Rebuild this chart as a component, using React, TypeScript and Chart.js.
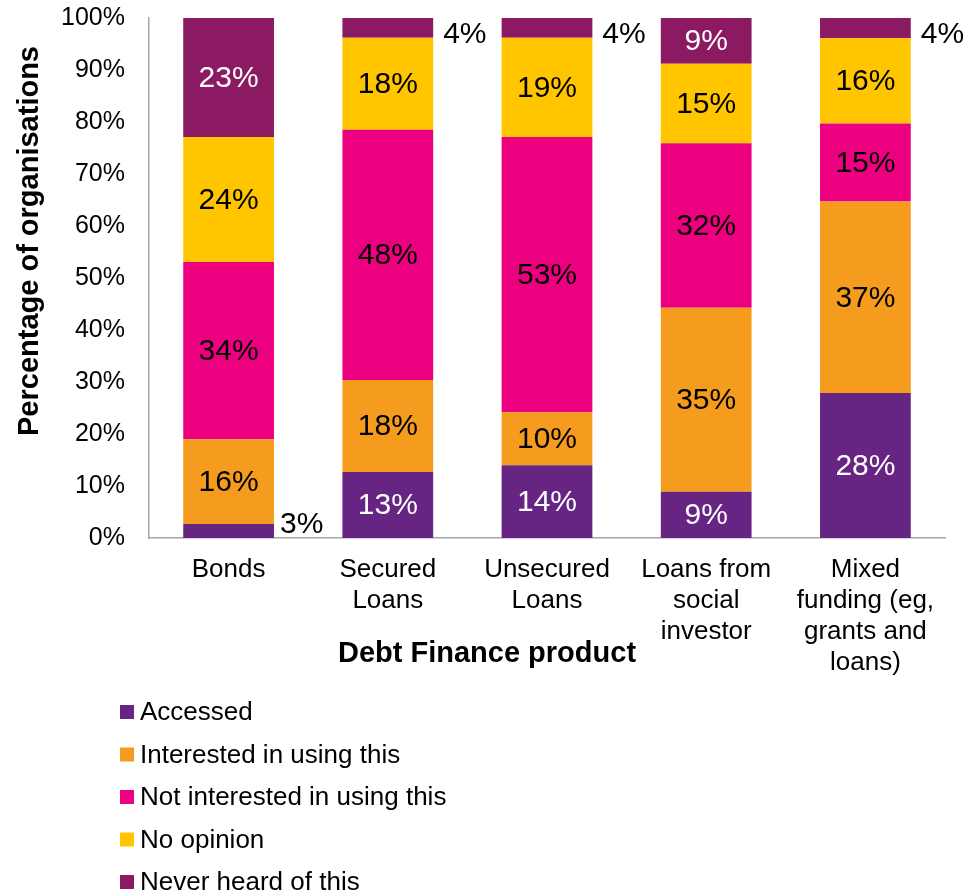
import React, { useEffect, useRef } from "react";
import { Chart, registerables } from "chart.js";

Chart.register(...registerables);

const categories: string[][] = [
  ["Bonds"],
  ["Secured", "Loans"],
  ["Unsecured", "Loans"],
  ["Loans from", "social", "investor"],
  ["Mixed", "funding (eg,", "grants and", "loans)"],
];

const seriesNames = [
  "Accessed",
  "Interested in using this",
  "Not interested in using this",
  "No opinion",
  "Never heard of this",
];

const accessed = [2.7, 12.7, 14.0, 8.9, 27.9];
const interested = [16.3, 17.7, 10.2, 35.4, 36.8];
const notInterested = [34.1, 48.1, 52.9, 31.6, 15.0];
const noOpinion = [24.0, 17.7, 19.1, 15.3, 16.4];
const neverHeard = [22.9, 3.8, 3.8, 8.8, 3.9];

const yTicks = [0, 10, 20, 30, 40, 50, 60, 70, 80, 90, 100];

const colors = ["#662483", "#F59C1E", "#EC0080", "#FFC600", "#8B1A62"];
const labelColors = ["#FFFFFF", "#000000", "#000000", "#000000", "#FFFFFF"];

const FONT = "Arial, 'Liberation Sans', Helvetica, sans-serif";

const customPlugin = {
  id: "customDraw",
  afterDatasetsDraw(chart: any) {
    const ctx = chart.ctx;
    const area = chart.chartArea;
    ctx.save();
    ctx.font = `30px ${FONT}`;
    ctx.textBaseline = "middle";
    chart.data.datasets.forEach((ds: any, i: number) => {
      const meta = chart.getDatasetMeta(i);
      meta.data.forEach((bar: any, j: number) => {
        const v = ds.data[j] as number;
        const text = Math.round(v) + "%";
        const cy = (bar.y + bar.base) / 2;
        if (v < 5) {
          ctx.fillStyle = "#000000";
          ctx.textAlign = "left";
          const nearTop = cy < (area.top + area.bottom) / 2;
          const y = Math.min(Math.max(cy, area.top + 16), area.bottom - 14);
          ctx.fillText(text, bar.x + bar.width / 2 + (nearTop ? 10 : 6), y + 1);
        } else {
          ctx.fillStyle = labelColors[i];
          ctx.textAlign = "center";
          ctx.fillText(text, bar.x, cy + 1);
        }
      });
    });
    ctx.restore();
  },
  afterDraw(chart: any) {
    const ctx = chart.ctx;
    ctx.save();
    ctx.fillStyle = "#000000";
    ctx.font = `bold 29px ${FONT}`;
    ctx.textAlign = "center";
    ctx.textBaseline = "middle";
    ctx.translate(30, 241);
    ctx.rotate(-Math.PI / 2);
    ctx.fillText("Percentage of organisations", 0, 0);
    ctx.restore();

    ctx.save();
    ctx.fillStyle = "#000000";
    ctx.font = `bold 29px ${FONT}`;
    ctx.textAlign = "center";
    ctx.textBaseline = "middle";
    ctx.fillText("Debt Finance product", 487, 654);

    ctx.font = `26px ${FONT}`;
    ctx.textAlign = "left";
    chart.data.datasets.forEach((ds: any, i: number) => {
      const yc = 712 + i * 42.5;
      ctx.fillStyle = colors[i];
      ctx.fillRect(120, yc - 7, 14, 14);
      ctx.fillStyle = "#000000";
      ctx.fillText(ds.label, 140, yc + 1);
    });
    ctx.restore();
  },
};

export default function App() {
  const ref = useRef<HTMLCanvasElement>(null);

  useEffect(() => {
    if (!ref.current) return;
    const seriesData = [accessed, interested, notInterested, noOpinion, neverHeard];
    const chart = new Chart(ref.current, {
      type: "bar",
      data: {
        labels: categories,
        datasets: seriesData.map((d, i) => ({
          label: seriesNames[i],
          data: d,
          backgroundColor: colors[i],
          borderWidth: 0,
          categoryPercentage: 1,
          barPercentage: 0.57,
        })),
      },
      options: {
        animation: false,
        responsive: false,
        maintainAspectRatio: false,
        font: { family: FONT },
        layout: { autoPadding: false, padding: { top: 18, right: 23, left: 0, bottom: 0 } },
        plugins: {
          legend: { display: false },
          tooltip: { enabled: false },
          title: { display: false },
        },
        scales: {
          x: {
            stacked: true,
            grid: { display: false, drawTicks: false },
            border: { display: true, color: "#A6A6A6", width: 1.5 },
            ticks: {
              color: "#000000",
              padding: 16,
              maxRotation: 0,
              autoSkip: false,
              font: { family: FONT, size: 26, lineHeight: 1.2 },
            },
            afterFit(scale: any) {
              scale.height = 354;
              scale.paddingLeft = 0;
              scale.paddingRight = 0;
            },
          },
          y: {
            stacked: true,
            min: 0,
            max: 100,
            grid: { display: false, drawTicks: false },
            border: { display: true, color: "#A6A6A6", width: 1.5 },
            afterBuildTicks(scale: any) {
              scale.ticks = yTicks.map((v) => ({ value: v }));
            },
            ticks: {
              color: "#000000",
              padding: 24,
              font: { family: FONT, size: 25 },
              callback: (v: any) => v + "%",
            },
            afterFit(scale: any) {
              scale.width = 149;
              scale.paddingTop = 0;
              scale.paddingBottom = 0;
            },
          },
        },
      },
      plugins: [customPlugin],
    });
    return () => chart.destroy();
  }, []);

  return (
    <div style={{ position: "absolute", left: 0, top: 0, width: 968, height: 892, background: "#fff" }}>
      <canvas ref={ref} width={968} height={892} style={{ width: 968, height: 892 }} />
    </div>
  );
}
